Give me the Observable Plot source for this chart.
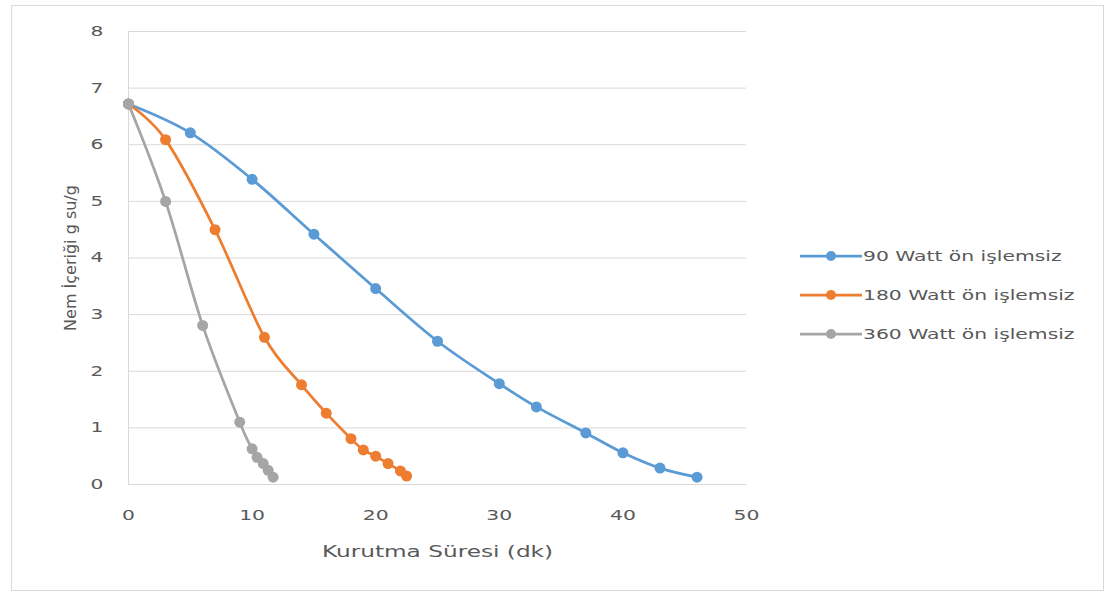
<!DOCTYPE html>
<html>
<head>
<meta charset="utf-8">
<script src="https://cdn.jsdelivr.net/npm/d3@7"></script>
<script src="https://cdn.jsdelivr.net/npm/@observablehq/plot@0.6"></script>
<style>
  html, body { margin: 0; padding: 0; background: #fff; }
  #wrap { position: relative; width: 1117px; height: 595px; overflow: hidden; }
  #border { position: absolute; left: 11px; top: 5px; width: 1093px; height: 586px; border: 1px solid #d9d9d9; box-sizing: border-box; }
  #chart { position: absolute; left: 0; top: 0; }
  #legend { position: absolute; left: 800px; top: 236px; }
</style>
</head>
<body>
<div id="wrap">
  <div id="border"></div>
  <div id="chart"></div>
  <div id="legend"></div>
</div>
<script>
// Series names
const seriesNames = ["90 Watt ön işlemsiz", "180 Watt ön işlemsiz", "360 Watt ön işlemsiz"];
const seriesColors = ["#5b9bd5", "#ed7d31", "#a5a5a5"];

// 90 W
const t90 = [0, 5, 10, 15, 20, 25, 30, 33, 37, 40, 43, 46];
const m90 = [6.72, 6.21, 5.39, 4.42, 3.46, 2.53, 1.78, 1.37, 0.91, 0.56, 0.29, 0.13];
// 180 W
const t180 = [0, 3, 7, 11, 14, 16, 18, 19, 20, 21, 22, 22.5];
const m180 = [6.72, 6.09, 4.5, 2.6, 1.76, 1.26, 0.81, 0.61, 0.5, 0.37, 0.24, 0.15];
// 360 W
const t360 = [0, 3, 6, 9, 10, 10.4, 10.9, 11.3, 11.7];
const m360 = [6.72, 5.0, 2.81, 1.1, 0.63, 0.48, 0.37, 0.25, 0.13];

const xTicks = [0, 10, 20, 30, 40, 50];
const yTicks = [0, 1, 2, 3, 4, 5, 6, 7, 8];
const xTitle = "Kurutma Süresi (dk)";
const yTitle = "Nem İçeriği g su/g";

const seriesT = [t90, t180, t360];
const seriesM = [m90, m180, m360];
const data = [];
seriesNames.forEach((name, s) => {
  seriesT[s].forEach((t, i) => data.push({series: name, t, m: seriesM[s][i]}));
});

const font = "DejaVu Sans, sans-serif";
const stretch = 1.45;
const plot = Plot.plot({
  width: 1117,
  height: 595,
  marginLeft: 128,
  marginRight: 371,
  marginTop: 31,
  marginBottom: 111,
  style: {fontFamily: font, fontSize: "14px", color: "#595959", background: "transparent"},
  x: {domain: [0, 50], label: null},
  y: {domain: [0, 8], label: null},
  color: {domain: seriesNames, range: seriesColors},
  marks: [
    Plot.ruleY(yTicks, {y: d => d, stroke: "#d9d9d9", strokeWidth: 1}),
    Plot.ruleX([0], {stroke: "#d9d9d9", strokeWidth: 1}),
    Plot.axisX(xTicks, {tickSize: 0, tickPadding: 26, tickFormat: "d", fill: "#595959", label: xTitle, labelAnchor: "center", labelOffset: 72, labelArrow: "none"}),
    Plot.axisY(yTicks, {tickSize: 0, tickPadding: 25, tickFormat: "d", fill: "#595959", label: yTitle, labelAnchor: "center", labelOffset: 64, labelArrow: "none"}),
    Plot.line(data, {x: "t", y: "m", z: "series", stroke: "series", strokeWidth: 2.75, curve: "cardinal", tension: 0}),
    Plot.dot(data, {x: "t", y: "m", fill: "series", r: 5.5, stroke: null})
  ]
});
document.getElementById("chart").appendChild(plot);

// larger axis titles
plot.querySelectorAll('g[aria-label="x-axis label"] text, g[aria-label="y-axis label"] text').forEach(t => {
  t.style.fontSize = "16px";
});

// horizontal stretch of non-rotated labels, as in the reference picture
plot.querySelectorAll("text").forEach(t => {
  const tr = (t.getAttribute("transform") || "") + (t.parentNode.getAttribute("transform") || "");
  if (/rotate/.test(tr)) return;
  const len = t.getComputedTextLength();
  if (len > 0) {
    t.setAttribute("textLength", (len * stretch).toFixed(1));
    t.setAttribute("lengthAdjust", "spacingAndGlyphs");
  }
});

// Legend
const ns = "http://www.w3.org/2000/svg";
const lsvg = document.createElementNS(ns, "svg");
lsvg.setAttribute("width", "300");
lsvg.setAttribute("height", "125");
lsvg.style.fontFamily = font;
lsvg.style.fontSize = "14px";
document.getElementById("legend").appendChild(lsvg);
seriesNames.forEach((name, i) => {
  const cy = 20 + i * 39;
  const line = document.createElementNS(ns, "line");
  line.setAttribute("x1", 0); line.setAttribute("x2", 62);
  line.setAttribute("y1", cy); line.setAttribute("y2", cy);
  line.setAttribute("stroke", seriesColors[i]); line.setAttribute("stroke-width", 2.75);
  lsvg.appendChild(line);
  const c = document.createElementNS(ns, "circle");
  c.setAttribute("cx", 31); c.setAttribute("cy", cy); c.setAttribute("r", 5);
  c.setAttribute("fill", seriesColors[i]);
  lsvg.appendChild(c);
  const tx = document.createElementNS(ns, "text");
  tx.setAttribute("x", 63); tx.setAttribute("y", cy); tx.setAttribute("dy", "0.35em");
  tx.setAttribute("fill", "#595959");
  tx.textContent = name;
  lsvg.appendChild(tx);
  const len = tx.getComputedTextLength();
  tx.setAttribute("textLength", (len * stretch).toFixed(1));
  tx.setAttribute("lengthAdjust", "spacingAndGlyphs");
});
</script>
</body>
</html>
